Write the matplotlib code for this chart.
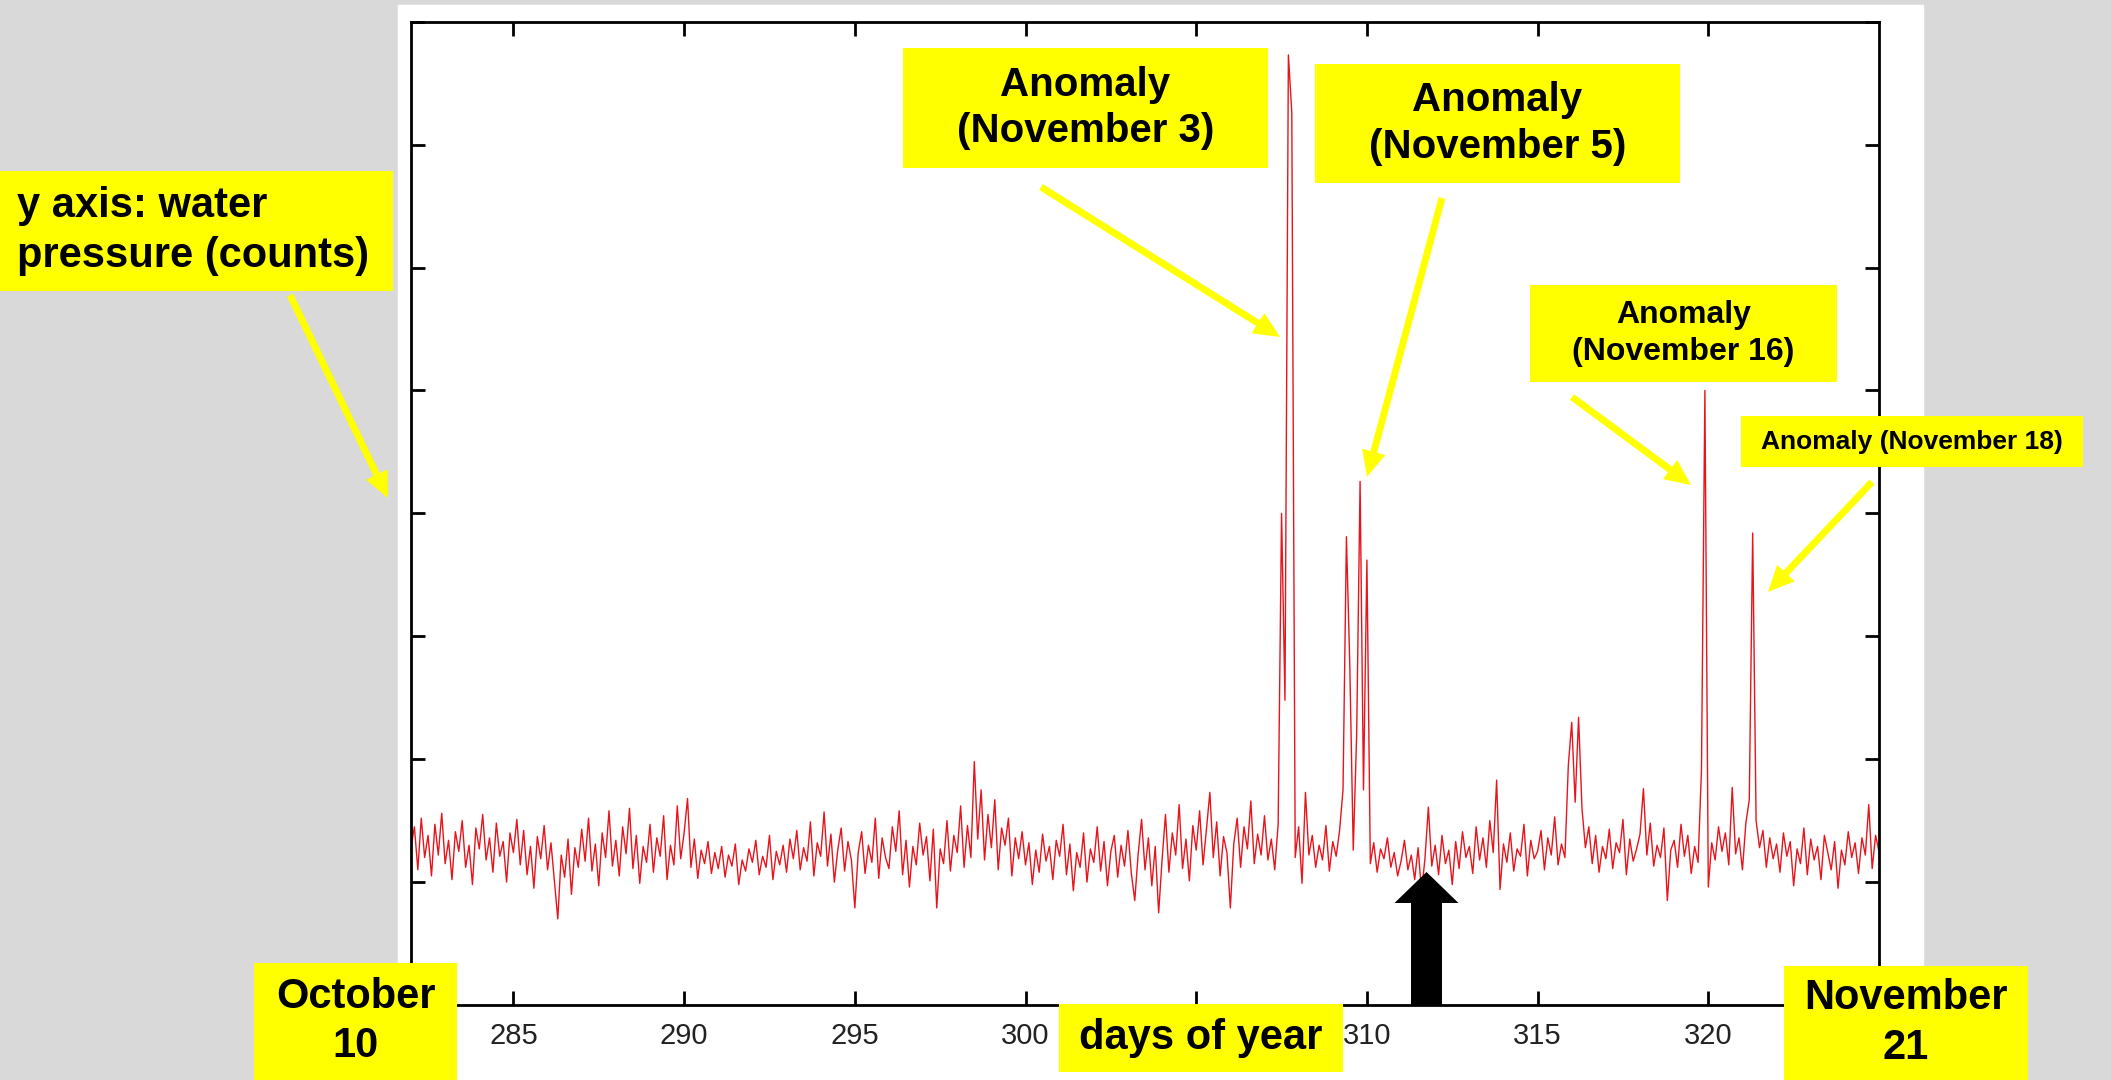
import numpy as np
import matplotlib.pyplot as plt
from matplotlib.patches import Rectangle, FancyArrow

plt.rcParams['font.family'] = ['Liberation Sans', 'DejaVu Sans']

# water pressure (counts, arbitrary units), one reading every 0.1 day, day 282.0 .. 325.0
pressure = [
    1.28, 1.45, 1.10, 1.52, 1.20, 1.38, 1.05, 1.47, 1.22, 1.56,  # 282
    1.15, 1.34, 1.02, 1.41, 1.25, 1.50, 1.12, 1.30, 0.98, 1.44,  # 283
    1.27, 1.55, 1.18, 1.36, 1.08, 1.48, 1.21, 1.33, 1.00, 1.40,  # 284
    1.24, 1.51, 1.14, 1.42, 1.06, 1.29, 0.95, 1.37, 1.19, 1.46,  # 285
    1.10, 1.32, 1.01, 0.70, 1.22, 1.04, 1.35, 0.90, 1.28, 1.12,  # 286
    1.43, 1.17, 1.52, 1.09, 1.31, 0.97, 1.40, 1.20, 1.58, 1.13,  # 287
    1.34, 1.05, 1.45, 1.23, 1.60, 1.11, 1.38, 0.99, 1.29, 1.16,  # 288
    1.47, 1.08, 1.36, 1.21, 1.54, 1.02, 1.30, 1.14, 1.62, 1.19,  # 289
    1.40, 1.68, 1.12, 1.35, 1.03, 1.26, 1.15, 1.33, 1.07, 1.24,  # 290
    1.11, 1.29, 1.04, 1.22, 1.13, 1.31, 0.98, 1.18, 1.09, 1.27,  # 291
    1.16, 1.34, 1.06, 1.21, 1.12, 1.38, 1.02, 1.25, 1.14, 1.30,  # 292
    1.08, 1.35, 1.19, 1.42, 1.10, 1.28, 1.17, 1.49, 1.05, 1.32,  # 293
    1.21, 1.57, 1.13, 1.39, 1.00, 1.26, 1.44, 1.09, 1.33, 1.18,  # 294
    0.79, 1.24, 1.41, 1.07, 1.30, 1.16, 1.52, 1.03, 1.36, 1.20,  # 295
    1.11, 1.45, 1.25, 1.58, 1.06, 1.34, 0.96, 1.29, 1.14, 1.48,  # 296
    1.22, 1.37, 1.01, 1.43, 0.79, 1.27, 1.15, 1.50, 1.09, 1.38,  # 297
    1.24, 1.62, 1.12, 1.46, 1.20, 1.98, 1.35, 1.75, 1.18, 1.55,  # 298
    1.28, 1.67, 1.10, 1.44, 1.30, 1.52, 1.05, 1.36, 1.19, 1.41,  # 299
    1.14, 1.32, 0.98, 1.26, 1.08, 1.39, 1.17, 1.29, 1.02, 1.34,  # 300
    1.21, 1.47, 1.06, 1.31, 0.93, 1.24, 1.12, 1.40, 1.00, 1.27,  # 301
    1.16, 1.45, 1.09, 1.33, 0.97, 1.25, 1.38, 1.04, 1.30, 1.13,  # 302
    1.42, 1.07, 0.85, 1.23, 1.51, 1.10, 1.36, 0.97, 1.29, 0.75,  # 303
    1.18, 1.55, 1.08, 1.40, 1.22, 1.63, 1.11, 1.35, 1.01, 1.46,  # 304
    1.26, 1.58, 1.14, 1.43, 1.73, 1.20, 1.49, 1.05, 1.37, 1.24,  # 305
    0.79, 1.31, 1.52, 1.12, 1.45, 1.27, 1.66, 1.15, 1.39, 1.22,  # 306
    1.54, 1.18, 1.35, 1.10, 1.47, 4.00, 2.48, 7.73, 7.26, 1.20,  # 307  (Nov 3)
    1.45, 0.99, 1.73, 1.22, 1.38, 1.12, 1.30, 1.18, 1.46, 1.09,  # 308
    1.33, 1.21, 1.42, 1.75, 3.81, 2.75, 1.26, 2.20, 4.26, 1.75,  # 309  (Nov 5)
    3.62, 1.15, 1.32, 1.08, 1.27, 1.19, 1.36, 1.12, 1.24, 1.05,  # 310
    1.17, 1.34, 1.10, 1.22, 1.02, 1.28, 0.92, 1.19, 1.61, 1.13,  # 311
    1.30, 1.06, 1.38, 1.15, 1.26, 0.98, 1.33, 1.11, 1.41, 1.20,  # 312
    1.29, 1.07, 1.45, 1.18, 1.36, 1.12, 1.50, 1.24, 1.83, 0.94,  # 313
    1.31, 1.16, 1.40, 1.09, 1.27, 1.21, 1.47, 1.05, 1.34, 1.19,  # 314
    1.25, 1.42, 1.10, 1.36, 1.22, 1.53, 1.14, 1.31, 1.20, 1.95,  # 315
    2.30, 1.65, 2.34, 1.60, 1.28, 1.45, 1.15, 1.38, 1.08, 1.29,  # 316
    1.19, 1.43, 1.11, 1.32, 1.24, 1.51, 1.06, 1.35, 1.17, 1.27,  # 317
    1.39, 1.76, 1.22, 1.48, 1.13, 1.30, 1.20, 1.44, 0.85, 1.26,  # 318
    1.34, 1.12, 1.47, 1.21, 1.38, 1.07, 1.29, 1.16, 1.91, 5.00,  # 319  (Nov 16)
    0.96, 1.32, 1.18, 1.45, 1.25, 1.40, 1.14, 1.77, 1.23, 1.36,  # 320
    1.10, 1.48, 1.67, 3.84, 1.50, 1.28, 1.42, 1.12, 1.36, 1.19,  # 321  (Nov 18)
    1.31, 1.08, 1.40, 1.21, 1.33, 0.97, 1.27, 1.15, 1.44, 1.06,  # 322
    1.35, 1.18, 1.29, 1.02, 1.38, 1.24, 1.10, 1.33, 0.95, 1.26,  # 323
    1.14, 1.41, 1.20, 1.32, 1.07, 1.36, 1.22, 1.63, 1.11, 1.38,  # 324
    1.25,                                                        # 325
]
days = np.linspace(282.0, 325.0, len(pressure))

x_ticks = [285, 290, 295, 300, 305, 310, 315, 320]
# 305 sits under the "days of year" box in the original, so it is left blank
x_tick_labels = ['285', '290', '295', '300', '', '310', '315', '320']
y_ticks = [0, 1, 2, 3, 4, 5, 6, 7, 8]

W, H = 2111, 1080
YELLOW = '#ffff00'

fig = plt.figure(figsize=(W / 100, H / 100), dpi=100, facecolor='#d9d9d9')

# white slide panel behind the plot (pixel coordinates)
bg = fig.add_axes([0, 0, 1, 1], zorder=0)
bg.set_xlim(0, W)
bg.set_ylim(H, 0)
bg.axis('off')
bg.add_patch(Rectangle((398, 5), 1525, 1075, color='white'))

# the data plot
ax = fig.add_axes([411 / W, (H - 1005) / H, (1879 - 411) / W, (1005 - 21.7) / H], zorder=1)
ax.plot(days, pressure, color='#e8141c', lw=1.0)
ax.set_xlim(282, 325)
ax.set_ylim(0, 8)
ax.set_xticks(x_ticks)
ax.set_xticklabels(x_tick_labels)
ax.set_yticks(y_ticks)
ax.set_yticklabels([])
ax.tick_params(direction='in', length=10, width=2, top=True, right=True,
               labelsize=21, labelcolor='#222222', pad=12)
for s in ax.spines.values():
    s.set_linewidth(2)

# overlay for the yellow callouts (pixel coordinates, y downwards)
ov = fig.add_axes([0, 0, 1, 1], zorder=2)
ov.set_xlim(0, W)
ov.set_ylim(H, 0)
ov.axis('off')


def callout(text, x0, y0, x1, y1, size, ha='center', tx=None):
    ov.add_patch(Rectangle((x0, y0), x1 - x0, y1 - y0, color=YELLOW, lw=0))
    if tx is None:
        tx = (x0 + x1) / 2
    ov.text(tx, (y0 + y1) / 2, text, ha=ha, va='center', fontsize=size,
            fontweight='bold', linespacing=1.3, color='black')


def yellow_arrow(x0, y0, x1, y1):
    ov.add_patch(FancyArrow(x0, y0, x1 - x0, y1 - y0, width=7, head_width=24,
                            head_length=26, length_includes_head=True,
                            color=YELLOW, lw=0))


callout('y axis: water\npressure (counts)', 0, 171, 393, 291, 30, ha='left', tx=17)
yellow_arrow(290, 295, 388, 498)

callout('Anomaly\n(November 3)', 903, 48, 1268, 168, 29)
yellow_arrow(1041, 187, 1280, 337)

callout('Anomaly\n(November 5)', 1315, 64, 1680, 183, 29)
yellow_arrow(1442, 198, 1367, 477)

callout('Anomaly\n(November 16)', 1530, 285, 1837, 382, 23)
yellow_arrow(1572, 397, 1691, 485)

callout('Anomaly (November 18)', 1741, 416, 2083, 467, 19)
yellow_arrow(1872, 482, 1768, 592)

callout('October\n10', 254, 963, 457, 1080, 30)
callout('November\n21', 1784, 966, 2028, 1080, 30)
callout('days of year', 1059, 1004, 1343, 1072, 30)

# black arrow pointing up at the quiet stretch after Nov 5
ov.add_patch(FancyArrow(1426.5, 1005, 0, -133, width=31, head_width=64,
                        head_length=31, length_includes_head=True,
                        color='black', lw=0))

fig.savefig('out.png', dpi=100, facecolor=fig.get_facecolor())
